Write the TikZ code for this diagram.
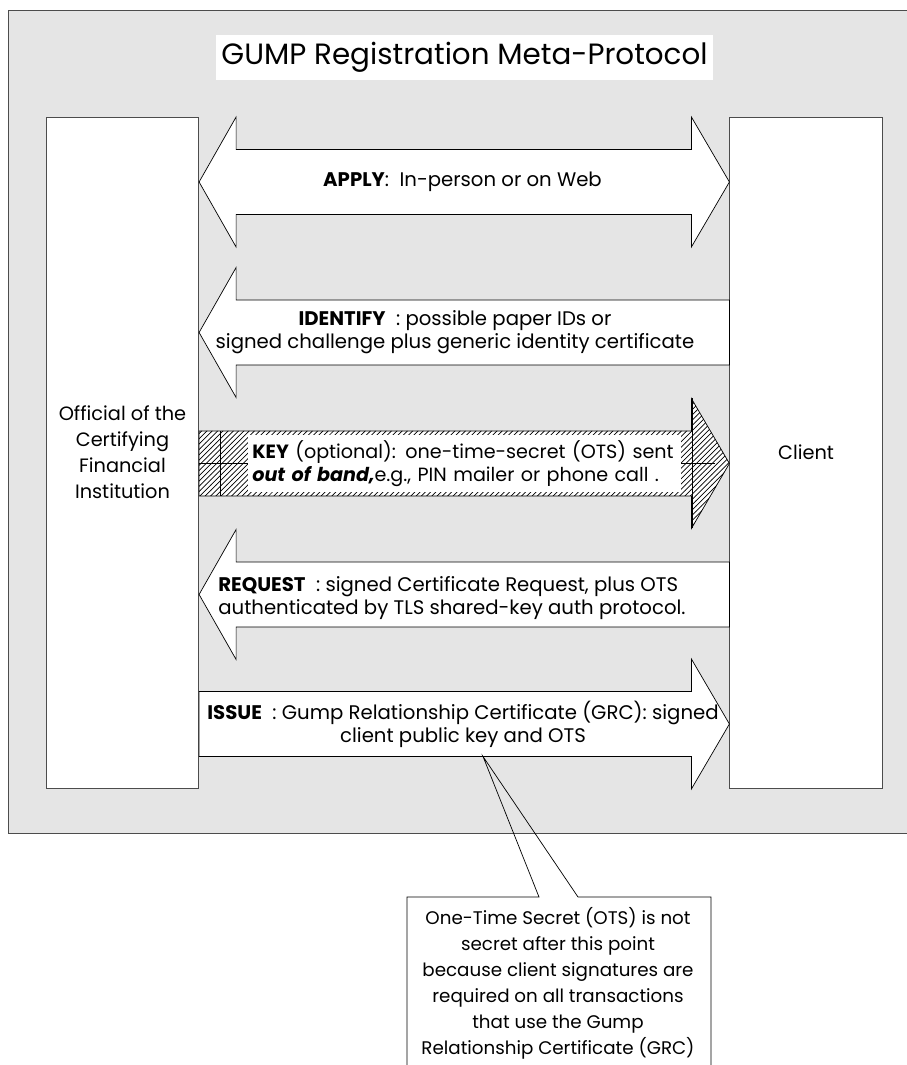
\documentclass[tikz,border=0pt]{standalone}
\usepackage{fontspec}
\setmainfont{Poppins}
\usetikzlibrary{calc,patterns}

\newcommand{\toclient}[2][]{%
  \draw[blk,#1] let \p1=(official.east),\p2=(client.west) in
    (\x1,#2cm+0.65cm) -- (\x2-0.76cm,#2cm+0.65cm) -- (\x2-0.76cm,#2cm+1.3cm)
    -- (\x2,#2cm) -- (\x2-0.76cm,#2cm-1.3cm) -- (\x2-0.76cm,#2cm-0.65cm)
    -- (\x1,#2cm-0.65cm) -- cycle;}
\newcommand{\toofficial}[2][]{%
  \draw[blk,#1] let \p1=(official.east),\p2=(client.west) in
    (\x2,#2cm+0.65cm) -- (\x1+0.74cm,#2cm+0.65cm) -- (\x1+0.74cm,#2cm+1.3cm)
    -- (\x1,#2cm) -- (\x1+0.74cm,#2cm-1.3cm) -- (\x1+0.74cm,#2cm-0.65cm)
    -- (\x2,#2cm-0.65cm) -- cycle;}

\begin{document}
\begin{tikzpicture}[
frame/.style={draw=black!70,fill=black!10},
box/.style={draw=black!70,fill=white,minimum width=3.05cm,minimum height=13.42cm,align=center,font=\fontsize{11}{14.8}\selectfont},
blk/.style={draw,fill=white,line join=miter},
hatch/.style={preaction={fill=white},pattern=north east lines},
lbl/.style={align=center,inner sep=0pt,font=\fontsize{11.2}{13.1}\selectfont}]
\useasboundingbox (0,0) rectangle (18.14,21.3);
\draw[frame] (18.4,21.1) -- (0.16,21.1) -- (0.16,4.64) -- (18.4,4.64);
\node[fill=white,minimum width=9.94cm,minimum height=0.9cm,font=\fontsize{16.7}{18}\selectfont] (title) at (9.29,20.15) {GUMP Registration Meta-Protocol};
\node[box] (official) at (2.45,12.25) {Official of the\\Certifying\\Financial\\Institution};
\node[box] (client) at (16.12,12.25) {Client};
\draw[blk] let \p1=(official.east),\p2=(client.west) in
  (\x1,17.66cm) -- (\x1+0.74cm,18.96cm) -- (\x1+0.74cm,18.31cm) -- (\x2-0.76cm,18.31cm)
  -- (\x2-0.76cm,18.96cm) -- (\x2,17.66cm) -- (\x2-0.76cm,16.36cm) -- (\x2-0.76cm,17.01cm)
  -- (\x1+0.74cm,17.01cm) -- (\x1+0.74cm,16.36cm) -- cycle;
\toofficial{14.65}
\toclient[hatch]{12.03}
\draw (4.4,11.38) -- (4.4,12.68) (3.98,12.03) -- (4.96,12.03);
\draw (13.84,10.73) -- (13.84,13.33) (13.62,12.03) -- (14.3,12.03);
\toofficial{9.41}
\toclient{6.82}
\node[lbl] (apply) at (9.25,17.66) {\textbf{APPLY}: \ In-person or on Web};
\node[lbl] (identify) at (9.1,14.65) {\textbf{IDENTIFY}\ \ : possible paper IDs or\\signed challenge plus generic identity certificate};
\node[lbl,fill=white,align=left,anchor=west,text width=8.5cm,minimum height=1.14cm,inner xsep=0.08cm,font=\fontsize{10.9}{13.1}\selectfont] (key) at (4.96,12.03) {\mbox{\textbf{KEY} (optional): one-time-secret (OTS) sent}\\\mbox{\textbf{\textit{out of band,}}e.g., PIN mailer or phone call .}};
\node[lbl,align=left,anchor=west] (request) at (4.36,9.33) {\textbf{REQUEST}\ \ : signed Certificate Request, plus OTS\\authenticated by TLS shared-key auth protocol.};
\node[lbl] (issue) at (9.26,6.82) {\textbf{ISSUE}\ \ : Gump Relationship Certificate (GRC): signed\\client public key and OTS};
\coordinate (tip) at (9.66,6.17);
\draw (8.14,-0.2) -- (8.14,3.36) -- (10.78,3.36) -- (tip) -- (11.56,3.36) -- (14.22,3.36) -- (14.22,-0.2);
\node[lbl,font=\fontsize{10.4}{14.8}\selectfont] (note) at (11.16,1.64) {One-Time Secret (OTS) is not\\secret after this point\\because client signatures are\\required on all transactions\\that use the Gump\\Relationship Certificate (GRC)};
\end{tikzpicture}
\end{document}
